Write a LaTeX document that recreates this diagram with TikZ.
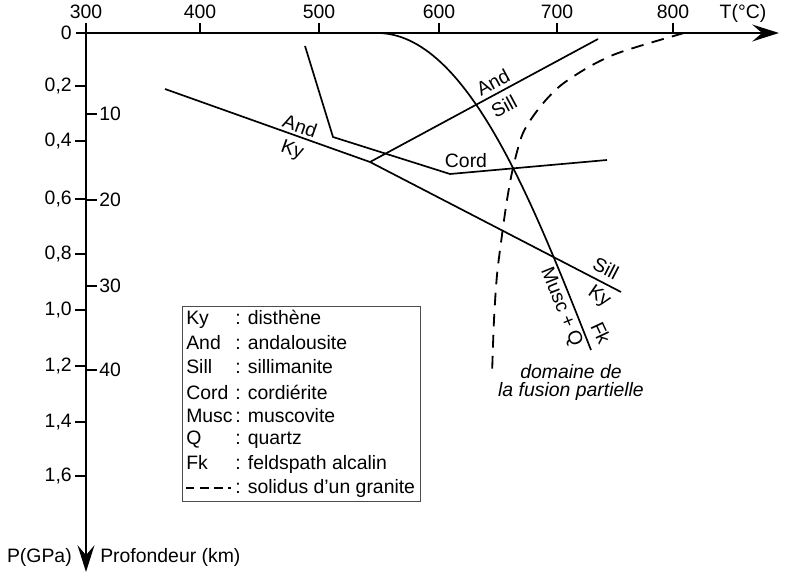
\documentclass[tikz,border=0pt]{standalone}
\usepackage{fontspec}
\setmainfont{Liberation Sans}
\usetikzlibrary{arrows.meta}

\newcommand{\legitem}[2]{\makebox[1.225cm][l]{#1}: #2}

\begin{document}
\begin{tikzpicture}[
    x=0.025cm, y=-0.025cm,
    font=\fontsize{13.8}{16.5}\selectfont,
    axisline/.style={line width=1.6pt, -{Stealth[length=19pt, width=12pt, inset=7pt]}},
    tickline/.style={line width=1.2pt},
    curve/.style={line width=1.2pt},
    solidus/.style={line width=1.3pt, dash pattern=on 9pt off 6pt},
    lbl/.style={inner sep=0pt},
    legrow/.style={anchor=west, inner sep=0pt}
]
\useasboundingbox (0,0) rectangle (791,578);

% Axes
\coordinate (Tstart) at (76,33);
\coordinate (Tend) at (779,33);
\coordinate (Pstart) at (86,23);
\coordinate (Pend) at (86,572);
\draw[axisline] (Tstart) -- (Tend);
\draw[axisline] (Pstart) -- (Pend);
\node[lbl] (Tlabel) at (743,13) {T(°C)};
\node[lbl, anchor=east] (Plabel) at (72,557) {P(GPa)};
\node[lbl, anchor=west] (Zlabel) at (100,557) {Profondeur (km)};

% Temperature ticks
\draw[tickline] (200,23) -- (200,33);
\draw[tickline] (319,23) -- (319,33);
\draw[tickline] (439,23) -- (439,33);
\draw[tickline] (557,23) -- (557,33);
\draw[tickline] (673,23) -- (673,33);
\node[lbl] (t300) at (86,12) {300};
\node[lbl] (t400) at (200,12) {400};
\node[lbl] (t500) at (319,12) {500};
\node[lbl] (t600) at (439,12) {600};
\node[lbl] (t700) at (557,12) {700};
\node[lbl] (t800) at (673,12) {800};

% Pressure ticks
\draw[tickline] (75,86) -- (86,86);
\draw[tickline] (75,141) -- (86,141);
\draw[tickline] (75,199) -- (86,199);
\draw[tickline] (75,254) -- (86,254);
\draw[tickline] (75,310) -- (86,310);
\draw[tickline] (75,366) -- (86,366);
\draw[tickline] (75,422) -- (86,422);
\draw[tickline] (75,476) -- (86,476);
\node[lbl, anchor=east] (p0) at (72,33) {0};
\node[lbl, anchor=east] (p02) at (72,86) {0,2};
\node[lbl, anchor=east] (p04) at (72,141) {0,4};
\node[lbl, anchor=east] (p06) at (72,199) {0,6};
\node[lbl, anchor=east] (p08) at (72,254) {0,8};
\node[lbl, anchor=east] (p10) at (72,310) {1,0};
\node[lbl, anchor=east] (p12) at (72,366) {1,2};
\node[lbl, anchor=east] (p14) at (72,422) {1,4};
\node[lbl, anchor=east] (p16) at (72,476) {1,6};

% Depth ticks
\draw[tickline] (86,114) -- (97,114);
\draw[tickline] (86,200) -- (97,200);
\draw[tickline] (86,286) -- (97,286);
\draw[tickline] (86,370) -- (97,370);
\node[lbl, anchor=west] (z10) at (99,114) {10};
\node[lbl, anchor=west] (z20) at (99,200) {20};
\node[lbl, anchor=west] (z30) at (99,286) {30};
\node[lbl, anchor=west] (z40) at (99,370) {40};

% Aluminosilicates
\coordinate (kyA) at (165,89);
\coordinate (triple) at (370,162);
\coordinate (sillA) at (598,39);
\coordinate (kyS) at (621,292);
\draw[curve] (kyA) -- (triple) -- (kyS);
\draw[curve] (triple) -- (sillA);
\node[lbl, rotate=-19.6] (andTop) at (300,126) {And};
\node[lbl, rotate=-19.6] (kyBot) at (292,151) {Ky};
\node[lbl, rotate=28.3] (andSill1) at (493,82) {And};
\node[lbl, rotate=28.3] (andSill2) at (504,106) {Sill};
\node[lbl, rotate=-27.3] (sillKy1) at (606,268) {Sill};
\node[lbl, rotate=-35] (sillKy2) at (599,297) {Ky};

% Cordierite
\coordinate (cord1) at (305,46);
\coordinate (cord2) at (333,137);
\coordinate (cord3) at (450,174);
\coordinate (cord4) at (607,160);
\draw[curve] (cord1) -- (cord2) -- (cord3) -- (cord4);
\node[lbl] (cordLbl) at (466,161) {Cord};

% Musc + Q = Fk
\coordinate (musc1) at (377,33);
\coordinate (musc2) at (591,350);
\draw[curve] (musc1) .. controls (467,33) and (533,203) .. (musc2);
\node[lbl, rotate=-68] (muscLbl) at (561,307) {Musc + Q};
\node[lbl, rotate=-65] (fkLbl) at (601,333) {Fk};

% Solidus
\draw[solidus] plot[smooth] coordinates {(684,33) (643,45) (613,55) (587,68) (560,86) (540,107) (523,133) (513,168) (507,200) (502,235) (497,275) (494,320) (492,375)};
\node[lbl, font=\fontsize{13.8}{16.5}\selectfont\itshape] (fusion1) at (571,372) {domaine de};
\node[lbl, font=\fontsize{13.8}{16.5}\selectfont\itshape] (fusion2) at (571,391) {la fusion partielle};

% Legend
\node[draw=black!70, line width=0.6pt, minimum width=5.95cm, minimum height=4.875cm, anchor=north west, inner sep=0pt] (legend) at (182,306) {};
\node[legrow] (legKy) at (186,319) {\legitem{Ky}{disthène}};
\node[legrow] (legAnd) at (186,343) {\legitem{And}{andalousite}};
\node[legrow] (legSill) at (186,367) {\legitem{Sill}{sillimanite}};
\node[legrow] (legCord) at (186,392) {\legitem{Cord}{cordiérite}};
\node[legrow] (legMusc) at (186,416) {\legitem{Musc}{muscovite}};
\node[legrow] (legQ) at (186,440) {\legitem{Q}{quartz}};
\node[legrow] (legFk) at (186,464) {\legitem{Fk}{feldspath alcalin}};
\coordinate (dashA) at (186,488);
\coordinate (dashB) at (231,488);
\draw[line width=1.3pt, dash pattern=on 6pt off 4pt] (dashA) -- (dashB);
\node[legrow] (legSol) at (235,488) {: solidus d’un granite};

\end{tikzpicture}
\end{document}
